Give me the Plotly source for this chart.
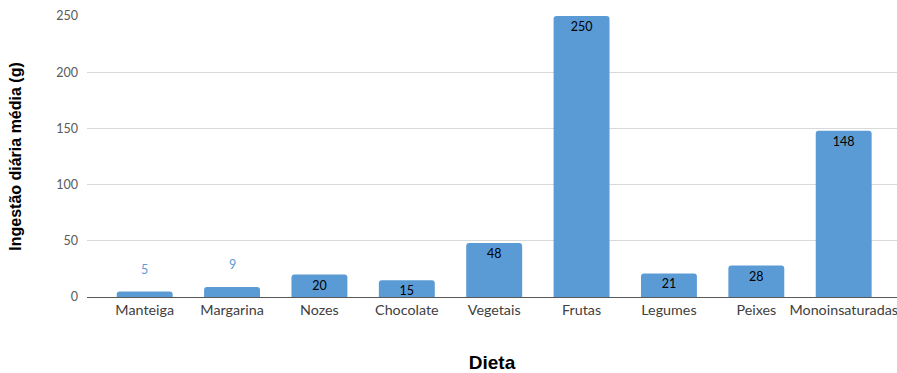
import plotly.graph_objects as go

categories = ["Manteiga", "Margarina", "Nozes", "Chocolate", "Vegetais",
              "Frutas", "Legumes", "Peixes", "Monoinsaturadas"]
values = [5, 9, 20, 15, 48, 250, 21, 28, 148]
y_ticks = [0, 50, 100, 150, 200, 250]

BAR = "#5B9BD5"
small = [v < 12 for v in values]

fig = go.Figure()
fig.add_trace(go.Bar(
    x=categories, y=values,
    marker=dict(color=BAR, cornerradius=3, line=dict(width=0)),
    text=["" if s else str(v) for v, s in zip(values, small)],
    textposition="inside", insidetextanchor="end", textangle=0, constraintext="none",
    textfont=dict(family="Lato, Liberation Sans, sans-serif", size=12.5, color="#000000"),
    cliponaxis=False,
    hoverinfo="x+y",
))

for c, v, s in zip(categories, values, small):
    if s:
        fig.add_annotation(x=c, y=v, text=str(v), showarrow=False, yshift=22,
                           font=dict(family="Lato, Liberation Sans, sans-serif", size=12.5, color=BAR))

fig.update_layout(
    width=897, height=373,
    margin=dict(l=87, r=0, t=16, b=76),
    plot_bgcolor="white", paper_bgcolor="white",
    bargap=0.36, showlegend=False,
    font=dict(family="Lato, Liberation Sans, sans-serif"),
)
fig.update_xaxes(
    range=[-0.66, 8.61], showgrid=False,
    showline=True, linecolor="#595959", linewidth=1,
    ticks="", tickfont=dict(size=14.3, color="#404040"),
    title=dict(text="Dieta", font=dict(family="Liberation Sans, Arial, sans-serif", size=19, color="#000000", weight="bold"),
               standoff=40),
)
fig.update_yaxes(
    range=[0, 250], tickvals=y_ticks, showgrid=True, gridcolor="#D9D9D9", gridwidth=1,
    zeroline=False, showline=False, ticks="",
    tickfont=dict(size=12.5, color="#595959"), ticklabelstandoff=8,
    title=dict(text="Ingestão diária média (g)",
               font=dict(family="Liberation Sans, Arial, sans-serif", size=16, color="#000000", weight="bold"),
               standoff=30),
)

fig.write_html("out.html")
